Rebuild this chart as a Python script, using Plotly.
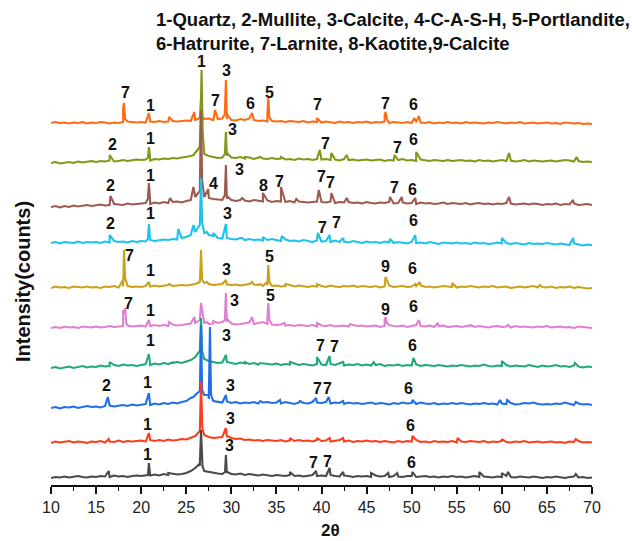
import plotly.graph_objects as go

# ---------------- data ----------------
series_names = ["M1", "M2", "M3", "M4", "M5", "M6", "M7", "M8", "M9", "M10"]
two_theta_grid = [10 + 0.5 * i for i in range(121)]  # 10..70 sampling grid

# background intensity on the grid (counts, relative)
base_M1 = [0,1,0.5,1.5,0.5,1,2,1,0.5,1.5, 1,2,1.5,1,2.5,1.5,2,1,2,2.5, 2,3,2.5,3.5,2.5,4,3,4.5,3.5,4,
           5,7,10,12,7,6,5,4.5,4,5, 4,3.5,4.5,3,4,3,2.5,3.5,3,2, 3,2.5,2,3,2,2.5,1.5,2.5,3,2,
           2.5,2,3,2,1.5,2.5,2,1,2,1.5, 2,1,2.5,1.5,2,1,2,1.5,1,2, 2,1,1.5,2,1,1.5,0.5,1.5,1,2,
           1,1.5,0.5,1,2,1,1.5,1,0.5,1.5, 1,2,1,0.5,1.5,1,0.5,1.5,1,0, 1,0.5,1.5,1,0,1,1.5,0.5,1,0,0.5]
base_M2 = [0,1.5,0.5,1,2,0.5,1.5,1,0,1.5, 1,2,0.5,1.5,1,2.5,1,2,1.5,2, 2.5,1.5,3,2,3,2,3.5,2.5,3,4,
           3.5,5,7,12,8,6,5,5.5,6,7, 5,4,4.5,3,3.5,2.5,3,2,3,2.5, 2,3,1.5,2.5,2,3,2,2.5,1.5,3,
           2,2.5,1.5,2,3,1.5,2.5,1,2,1.5, 2.5,1.5,2,1,2,1.5,0.5,2,1,2, 1.5,3,1,1.5,0.5,2,1,1.5,1,2,
           0.5,1.5,1,2,1.5,1,2,0.5,1.5,1, 2,1,0.5,1.5,1,2,0.5,1,1.5,0.5, 1,1.5,0.5,1,0,1.5,1,2,0.5,1,0.5]
base_M3 = [-3,-2,-3.5,-2,-2.5,-1.5,-3,-2,-1,-2, -1.5,-2.5,-1,-0.5,-1.5,-1,0,-1,0.5,-0.5, 0,1,0,1.5,0.5,2,1,2.5,1.5,3,
           4,7,10,14,10,6,4,3,2.5,3.5, 2,3,1.5,2.5,2,3,1.5,2.5,3,2, 2.5,1.5,3,2,1,2.5,2,1.5,3,2.5,
           2,3,1.5,2.5,2,1,2.5,1.5,2,1, 1.5,2.5,1,2,1.5,0.5,2,1,2.5,1.5, 2,1,2.5,1.5,1,2,0.5,1.5,1,2,
           1,2,1.5,0.5,1.5,1,2,1,1.5,0.5, 1.5,1,2,0.5,1,2,1.5,2.5,1,0.5, 1,0.5,1.5,1,2.5,1,0,1.5,0.5,1,0]
base_M4 = [-1,0,-1.5,-0.5,0.5,-1,0,1,-0.5,0.5, 0,1.5,0.5,1,2,1,2.5,1.5,2,1, 2,3,2,3.5,2.5,4,3,4.5,5,4,
           5.5,7,10,16,8,6,5,4,4.5,5, 4,3,4.5,3.5,3,4,2.5,3.5,3,2.5, 3.5,2,3,2.5,3.5,2,3,2.5,1.5,3,
           2.5,2,3,2,3.5,1.5,2.5,2,3,1.5, 2.5,1.5,2,3,1,2,1.5,2.5,1,2, 1.5,2.5,1,2,1.5,1,2,1.5,0.5,1.5,
           1,2,1.5,0.5,1.5,1,2.5,1,0.5,1.5, 1,2,0.5,1.5,1,0.5,2,1,0,1.5, 0.5,1,2,0.5,1,0,1.5,0.5,-0.5,0.5,0]
base_M5 = [0,1,0,1.5,0.5,1,0,1.5,1,0.5, 1.5,0.5,1,2,1,1.5,2,2.5,1.5,2, 2.5,1.5,2,3,2,3,2,3.5,2.5,3,
           4,4.5,5,8,5,4,4.5,5,6,6, 4.5,3.5,4,5,5.5,4,5,6,4,3.5, 3,3.5,2.5,3,2,3,2.5,2,3,1.5,
           2.5,2,3,1.5,2,2.5,1.5,3,2,2.5, 1.5,2,2.5,1,2,3,2,1.5,2.5,1, 2,3,2,1.5,2.5,1,2,2.5,1,1.5,
           2,1,1.5,2.5,1,2,1.5,0.5,1.5,2, 1,1.5,0.5,2,1,1.5,1,0.5,1.5,1, 2,0.5,1,1.5,0.5,1,0,1.5,1,0.5,0]
base_M6 = [0,1.5,0.5,1,0,1.5,1,0.5,1.5,0.5, 1,0,1.5,1,2,0.5,1.5,2,1,1.5, 1,2,1.5,2.5,1.5,2,3,2,2.5,3,
           2.5,3.5,4,6,5,4,3,3.5,4,3.5, 3,3.5,2.5,3,4,3.5,3,2,2.5,2, 2.5,1.5,2,3,1.5,2.5,2,1,2,1.5,
           2,1,2.5,1.5,1,2,1.5,2.5,1,2, 1.5,1,2,0.5,1.5,2.5,1,1.5,2,1, 1.5,2,2.5,1,1.5,0.5,1,2,1.5,1,
           0.5,1.5,1,2,1,0.5,1.5,1,2,0.5, 1,1.5,0,1,1.5,0.5,1,2,0.5,1, 0.5,1.5,0,1,0.5,1.5,0,1,0.5,-0.5,0]
base_M7 = [2,3,1.5,3,2.5,2,3.5,2,3,2.5, 3,2,3.5,2.5,4,3,3.5,2.5,4,3, 4,3.5,5,4,4.5,5.5,5,6,5.5,7,
           8,10,13,20,12,10,9,7,6.5,7, 6,5.5,7,5,6,5,5.5,4.5,5,6, 5,4,5.5,4,4.5,3.5,5,4,3,4.5,
           3.5,4,3,4.5,3,3.5,2.5,4,3,2, 3.5,2.5,3,2,3.5,2.5,2,3,2.5,1.5, 3,2,2.5,1.5,3,2,1,2.5,2,1.5,
           2.5,1.5,2,1,2.5,1.5,2,1,1.5,2.5, 1.5,2,1,2,1.5,0.5,2,1,1.5,1, 2,1,0.5,1.5,1,0,1.5,0.5,-0.5,0.5,0]
base_M8 = [-2,-1,-2.5,-1,-2,-0.5,-1.5,-1,0,-1, -0.5,0.5,-0.5,0,1,0.5,0,1.5,0.5,1, 1.5,2,1,2.5,1.5,3,2,3,3.5,2.5,
           4,5,8,14,8,7,6,5.5,5,6, 5,4,5,4.5,3.5,5,4,3.5,4.5,3, 4,3.5,3,4,2.5,3.5,3,2.5,3,3.5,
           3,2.5,3.5,2,3,2.5,3,2,2.5,1.5, 3,2,1.5,2.5,2,3,1.5,2,2.5,1.5, 2,1,2.5,1.5,2,1,1.5,2.5,1,2,
           1.5,1,2,0.5,1.5,2,1,1.5,0.5,1.5, 1,2,1.5,0.5,1,1.5,0.5,1.5,1,0, 1,0.5,1.5,0,1,0.5,1.5,0,0.5,1,0]
base_M9 = [-1,0,-1.5,-0.5,0,-1,0.5,-0.5,0,1, 0,1,0.5,1.5,0.5,1,2,1,1.5,2.5, 2,2.5,1.5,3,2.5,3.5,3,4,3.5,4.5,
           5,6,9,15,8,6,5,4,4.5,6, 4.5,4,5,3.5,4.5,3,4,3.5,3,4, 3,3.5,2.5,3,2,3.5,2.5,3,2,3,
           2.5,3,2,2.5,1.5,3,2,2.5,1.5,2, 2.5,1.5,2,2.5,1,2,1.5,2,3,1.5, 2,1,2.5,1.5,1,2,1.5,1,2,1,
           1.5,2,1,1.5,0.5,2,1,1.5,0.5,1, 2,1,1.5,0.5,1,2,0.5,1.5,1,0.5, 1,1.5,0.5,1,2,1.5,0.5,1,0,0.5,0]
base_M10 = [1,2,1,1.5,0.5,1.5,1,2,0.5,1.5, 1,2,1.5,0.5,1.5,1,2,2.5,2,1.5, 2,1.5,2.5,2,3,2,2.5,3,2.5,3,
            3.5,3,4,6,5,5.5,4,5,5.5,5, 4,3.5,5,4,5.5,4,3,3.5,2.5,3, 2.5,3,2,3,2.5,2,3,1.5,2.5,2,
            1.5,2.5,2,1,2.5,1.5,2,1,2,1.5, 2.5,1,2,1.5,2.5,1,2,1.5,1,2, 1,2,1.5,1,2,0.5,1.5,1,2,1,
            1.5,0.5,2,1,1.5,1,0.5,1.5,1,2, 1,0.5,1.5,1,2,0.5,1,1.5,0.5,1, 1.5,0.5,1,0,1.5,1,0.5,1,0,0.5,0]

# diffraction peaks: [2theta, intensity]
peaks_M1 = [[16.4,7],[20.75,3],[20.86,15],[20.97,3],[23.0,5],[26.45,14],[26.64,48],[26.8,12],
            [29.3,6],[29.4,23],[29.55,6],[36.5,6],[39.4,7],[40.9,10],[42.4,6],[45.5,5],[47.4,5],
            [48.4,5],[50.1,6],[57.5,6],[60.0,5],[60.7,6],[68.2,4]]
peaks_M2 = [[16.4,4],[20.86,10],[26.52,16],[26.64,61],[26.78,15],[29.4,15],[36.5,5],[39.5,5],
            [40.9,5],[42.4,5],[50.1,7],[55.1,5],[60.0,4],[68.2,4]]
peaks_M3 = [[16.3,8],[20.86,12],[25.8,8],[26.52,18],[26.64,80],[26.76,15],[27.48,10],[27.63,78],
            [27.75,10],[29.4,10],[33.2,4],[35.4,5],[37.6,4],[39.4,7],[40.8,8],[42.4,4],[50.1,5],
            [59.8,5],[60.6,5],[68.2,3]]
peaks_M4 = [[16.5,5],[20.86,13],[23.5,4],[26.52,20],[26.64,49],[26.76,16],[29.4,12],[31.5,5],
            [33.2,4],[36.5,5],[39.5,10],[40.9,11],[42.4,5],[45.8,5],[50.2,9],[60.0,6],[68.1,4]]
peaks_M5 = [[18.0,18],[18.12,14],[18.22,20],[18.34,5],[20.86,8],[23.1,6],[25.9,11],[26.64,25],
            [27.3,6],[28.0,7],[29.28,8],[29.4,35],[29.55,9],[32.3,11],[34.0,10],[34.1,25],[34.22,8],
            [35.9,5],[39.5,5],[43.2,4],[47.0,8],[47.1,11],[47.25,5],[50.8,8],[52.9,5],[56.5,3],[60.7,3]]
peaks_M6 = [[17.98,8],[18.1,38],[18.22,10],[20.86,6],[23.1,4],[26.52,8],[26.64,38],[26.76,8],
            [27.3,6],[29.4,8],[32.3,6],[33.2,4],[33.98,6],[34.1,23],[34.22,6],[36.0,4],[39.5,4],
            [47.1,11],[50.4,4],[50.9,6],[54.5,5],[64.2,3]]
peaks_M7 = [[16.5,10],[20.74,6],[20.86,21],[20.98,7],[24.1,16],[25.8,20],[26.52,26],[26.64,67],
            [26.76,22],[27.3,13],[28.0,12],[29.4,21],[31.2,7],[33.5,8],[35.6,9],[39.6,12],[40.9,10],
            [42.4,7],[47.6,6],[50.4,10],[60.0,7],[67.9,7]]
peaks_M8 = [[16.6,9],[20.74,6],[20.86,22],[20.98,6],[23.2,7],[25.8,18],[26.52,30],[26.64,95],
            [26.76,25],[27.45,16],[29.28,10],[29.4,40],[29.52,9],[31.2,7],[33.5,12],[35.5,18],[37.2,6],
            [39.7,15],[41.1,12],[42.8,7],[47.6,8],[48.9,8],[50.4,7],[60.8,8],[67.9,5]]
peaks_M9 = [[16.5,7],[20.74,4],[20.86,15],[20.98,5],[25.8,7],[26.58,40],[26.7,92],[26.82,30],
            [29.28,8],[29.4,30],[29.52,9],[31.5,5],[33.2,5],[35.5,5],[39.8,12],[41.1,9],[42.8,7],
            [48.1,7],[50.5,10],[60.8,9],[68.3,5]]
peaks_M10 = [[18.0,16],[18.1,21],[18.22,5],[20.86,11],[23.1,7],[25.9,12],[26.52,8],[26.64,25],
             [26.76,8],[28.2,14],[29.28,10],[29.4,44],[29.52,10],[32.3,11],[34.0,10],[34.1,26],
             [34.22,7],[39.5,6],[47.0,9],[47.1,12],[47.25,5],[50.3,6],[50.8,8]]

bases = [base_M1, base_M2, base_M3, base_M4, base_M5, base_M6, base_M7, base_M8, base_M9, base_M10]
peaks = [peaks_M1, peaks_M2, peaks_M3, peaks_M4, peaks_M5, peaks_M6, peaks_M7, peaks_M8, peaks_M9, peaks_M10]

# phase labels: (series, text, 2theta)
label_text = [
    ("M10","7",18.3),("M10","1",21.0),("M10","1",26.74),("M10","7",28.2),("M10","3",29.5),("M10","6",32.1),
    ("M10","5",34.2),("M10","7",39.6),("M10","7",47.1),("M10","6",50.2),
    ("M9","2",16.8),("M9","1",21.0),("M9","3",30.1),("M9","7",40.4),("M9","7",48.4),("M9","6",50.2),
    ("M8","2",16.65),("M8","1",21.0),("M8","4",28.0),("M8","3",30.85),("M8","8",33.6),("M8","7",35.3),
    ("M8","7",40.05),("M8","7",40.95),("M8","7",48.1),("M8","6",50.1),
    ("M7","2",16.65),("M7","1",21.0),("M7","3",29.6),("M7","7",40.15),("M7","7",41.7),("M7","6",50.25),
    ("M6","7",18.75),("M6","1",21.0),("M6","3",29.5),("M6","5",34.2),("M6","9",47.1),("M6","6",50.1),
    ("M5","7",18.55),("M5","1",21.0),("M5","3",30.3),("M5","5",34.3),("M5","9",47.1),("M5","6",50.25),
    ("M4","1",21.0),("M4","3",29.5),("M4","7",39.9),("M4","7",41.4),("M4","6",50.1),
    ("M3","2",16.2),("M3","1",20.65),("M3","3",29.95),("M3","7",39.6),("M3","7",40.7),("M3","6",49.7),
    ("M2","1",20.75),("M2","3",29.95),("M2","6",49.9),
    ("M1","1",20.75),("M1","3",29.85),("M1","7",39.15),("M1","7",40.7),("M1","6",50.0),
]

# ---------------- layout / style ----------------
stack_offsets = [7, 42, 80, 118, 157, 197, 240, 280, 323, 361]
label_heights = [393,380,424,385,415,382,393,381,382,381,
                 341,347,356,342,338,346,
                 300,310,302,316,300,304,309,303,298,296,
                 262,272,272,258,263,265,
                 230,215,216,229,219,217,
                 182,175,185,190,176,179,
                 145,150,140,139,140,
                 100,103,100,97,97,97,
                 61,67,60,
                 31,40,23,24,23]
name_heights = [13, 43, 83, 122, 156, 200, 242, 284, 325, 361]
colors = ["#4a4a4a", "#fb3d1e", "#1f6fe8", "#21a97b", "#e07fd2",
          "#c9a21a", "#1cc3ee", "#9c5b4e", "#7d9a19", "#ff6a13"]
FONT = "Liberation Sans, Arial, sans-serif"

fig = go.Figure()
for i in range(len(series_names) - 1, -1, -1):
    pts = [[t, v] for t, v in zip(two_theta_grid, bases[i])] + peaks[i]
    pts.sort(key=lambda p: p[0])
    fig.add_trace(go.Scatter(
        x=[p[0] for p in pts],
        y=[p[1] + stack_offsets[i] for p in pts],
        mode="lines", line=dict(color=colors[i], width=2.1),
        showlegend=False, hoverinfo="skip"))

annotations = []
for (s, txt, th), yv in zip(label_text, label_heights):
    annotations.append(dict(x=th, y=yv, xref="x", yref="y", text="<b>" + txt + "</b>",
                            showarrow=False, font=dict(family=FONT, size=16, color="#111"),
                            xanchor="center", yanchor="middle"))
for name, yv in zip(series_names, name_heights):
    annotations.append(dict(x=70.1, y=yv, xref="x", yref="y", text="<b>" + name + "</b>",
                            showarrow=False, font=dict(family=FONT, size=17, color="#111"),
                            xanchor="left", yanchor="middle"))

annotations += [
    dict(x=0.19, y=1.083, xref="paper", yref="paper", xanchor="left", yanchor="middle",
         text="<b>1-Quartz, 2-Mullite, 3-Calcite, 4-C-A-S-H, 5-Portlandite,</b>", showarrow=False,
         font=dict(family=FONT, size=18.5, color="#111")),
    dict(x=0.19, y=1.026, xref="paper", yref="paper", xanchor="left", yanchor="middle",
         text="<b>6-Hatrurite, 7-Larnite, 8-Kaotite,9-Calcite</b>", showarrow=False,
         font=dict(family=FONT, size=18.5, color="#111")),
    dict(x=-0.052, y=0.474, xref="paper", yref="paper", xanchor="center", yanchor="middle",
         text="<b>Intensity(counts)</b>", textangle=-90, showarrow=False,
         font=dict(family=FONT, size=20, color="#111")),
    dict(x=0.516, y=-0.105, xref="paper", yref="paper", xanchor="center", yanchor="middle",
         text="<b>2θ</b>", showarrow=False, font=dict(family=FONT, size=17, color="#111")),
]

fig.update_layout(
    width=632, height=541,
    margin=dict(l=51, r=40, t=55, b=56),
    paper_bgcolor="white", plot_bgcolor="white",
    annotations=annotations,
    xaxis=dict(range=[10, 70], tickmode="linear", tick0=10, dtick=5,
               ticks="outside", ticklen=7, tickwidth=1.5, tickcolor="#111",
               showline=True, linecolor="#111", linewidth=1.6,
               showgrid=False, zeroline=False,
               tickfont=dict(family=FONT, size=16, color="#222"),
               minor=dict(ticks="outside", ticklen=4, tickwidth=1.2, tickcolor="#111", dtick=2.5, showgrid=False)),
    yaxis=dict(range=[0, 430], visible=False, showgrid=False, zeroline=False),
)

fig.write_html("out.html")
